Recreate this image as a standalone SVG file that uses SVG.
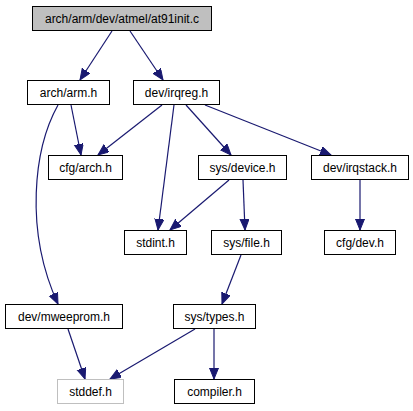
<svg xmlns="http://www.w3.org/2000/svg" width="413" height="411" viewBox="0 0 413 411">
<defs>
<style>
.n rect{fill:#ffffff;stroke:#000000;stroke-width:1}
.n text{font-family:"Liberation Sans",Arial,sans-serif;font-size:12px;fill:#000000;text-anchor:middle}
#root rect{fill:#bfbfbf}
#stddef rect{stroke:#bfbfbf}
.e path{fill:none;stroke:#191970;stroke-width:1.2;marker-end:url(#arr)}
</style>
<marker id="arr" markerUnits="userSpaceOnUse" markerWidth="12" markerHeight="10" refX="11" refY="4.5" orient="auto" viewBox="0 0 12 10">
<path d="M0,0 L11,4.5 L0,9 z" fill="#191970" stroke="#191970" stroke-width="1"/>
</marker>
</defs>
<rect width="413" height="411" fill="#ffffff"/>
<g id="edges" class="e">
<path d="M112,31 L80,80"/>
<path d="M130,31 L163,80"/>
<path d="M71,105 L81,155"/>
<path d="M58,105 C34,148 24,230 58,304"/>
<path d="M162,105 L98,155"/>
<path d="M174,105 L158,230"/>
<path d="M186,105 L231,155"/>
<path d="M205,105 L331,155"/>
<path d="M229,180 L170,230"/>
<path d="M243,180 L245,230"/>
<path d="M360,180 L360,230"/>
<path d="M241,255 L222,304"/>
<path d="M68,329 L85,379"/>
<path d="M195,329 L110,379"/>
<path d="M214,329 L214,379"/>
</g>
<g id="root" class="n"><rect x="32.5" y="6.5" width="179" height="24"/><text x="122" y="23">arch/arm/dev/atmel/at91init.c</text></g>
<g id="arm" class="n"><rect x="27.5" y="80.5" width="82" height="24"/><text x="68.5" y="97">arch/arm.h</text></g>
<g id="irqreg" class="n"><rect x="133.5" y="80.5" width="86" height="24"/><text x="176.5" y="97">dev/irqreg.h</text></g>
<g id="cfgarch" class="n"><rect x="48.5" y="155.5" width="74" height="24"/><text x="85.5" y="172">cfg/arch.h</text></g>
<g id="device" class="n"><rect x="198.5" y="155.5" width="88" height="24"/><text x="242.5" y="172">sys/device.h</text></g>
<g id="irqstack" class="n"><rect x="311.5" y="155.5" width="97" height="24"/><text x="360" y="172">dev/irqstack.h</text></g>
<g id="stdint" class="n"><rect x="124.5" y="230.5" width="62" height="24"/><text x="155.5" y="247">stdint.h</text></g>
<g id="sysfile" class="n"><rect x="211.5" y="230.5" width="70" height="24"/><text x="246.5" y="247">sys/file.h</text></g>
<g id="cfgdev" class="n"><rect x="324.5" y="230.5" width="71" height="24"/><text x="360" y="247">cfg/dev.h</text></g>
<g id="mweeprom" class="n"><rect x="5.5" y="304.5" width="117" height="24"/><text x="64" y="321">dev/mweeprom.h</text></g>
<g id="types" class="n"><rect x="173.5" y="304.5" width="82" height="24"/><text x="214.5" y="321">sys/types.h</text></g>
<g id="stddef" class="n"><rect x="57.5" y="379.5" width="66" height="24"/><text x="90.5" y="396">stddef.h</text></g>
<g id="compiler" class="n"><rect x="174.5" y="379.5" width="80" height="24"/><text x="214.5" y="396">compiler.h</text></g>
</svg>
